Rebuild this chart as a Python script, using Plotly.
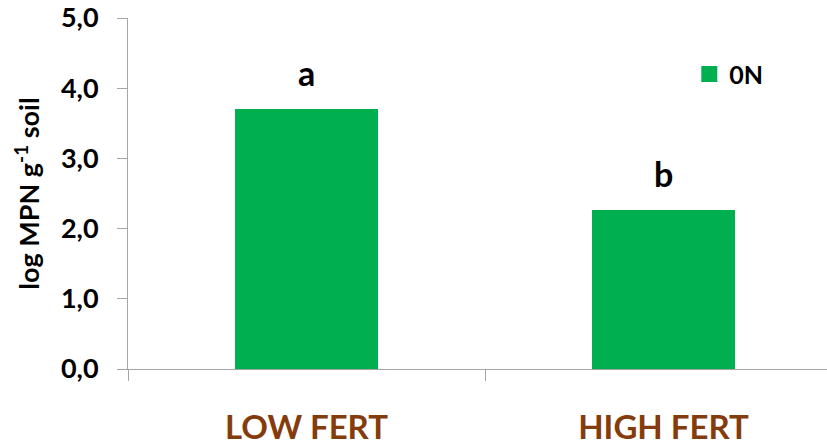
import plotly.graph_objects as go

# Data
categories = ["LOW FERT", "HIGH FERT"]
values_0n = [3.70, 2.26]
letters = ["a", "b"]
series_name = "0N"
y_ticks = [0, 1, 2, 3, 4, 5]
y_tick_labels = ["0,0", "1,0", "2,0", "3,0", "4,0", "5,0"]

GREEN = "#00B050"
AXIS_GREY = "#A6A6A6"
BROWN = "#843C0C"
FONT = "Lato, 'Open Sans', sans-serif"

fig = go.Figure()

fig.add_trace(go.Bar(
    x=categories,
    y=values_0n,
    width=0.40,
    marker=dict(color=GREEN, line=dict(width=0)),
    name=series_name,
    showlegend=False,
))

# significance letters above each bar
for cat, val, letter in zip(categories, values_0n, letters):
    fig.add_annotation(
        x=cat, y=val, text=letter, showarrow=False,
        xanchor="center", yanchor="bottom", yshift=14,
        font=dict(family=FONT, size=34, color="black", weight="bold"),
    )

# legend entry
fig.add_trace(go.Scatter(
    x=[None], y=[None], mode="markers",
    marker=dict(symbol="square", size=18, color=GREEN),
    name=series_name,
))

fig.update_layout(
    width=827, height=445,
    margin=dict(l=128, r=0, t=18, b=76),
    paper_bgcolor="white", plot_bgcolor="white",
    font=dict(family=FONT, color="black"),
    bargap=0,
    legend=dict(
        x=0.803, y=0.84, xanchor="left", yanchor="middle",
        font=dict(family=FONT, size=25, color="black", weight="bold"),
        bgcolor="rgba(0,0,0,0)", itemsizing="trace",
    ),
)

fig.update_xaxes(
    type="category",
    range=[-0.5, 1.458],
    showgrid=False, zeroline=False,
    showline=True, linecolor=AXIS_GREY, linewidth=1,
    ticks="outside", tickson="boundaries", ticklen=11,
    tickcolor=AXIS_GREY, tickwidth=1,
    tickfont=dict(family=FONT, size=33, color=BROWN, weight="bold"),
    ticklabelstandoff=29,
)

fig.update_yaxes(
    range=[0, 5],
    tickmode="array", tickvals=y_ticks, ticktext=y_tick_labels,
    showgrid=False, zeroline=False,
    showline=True, linecolor=AXIS_GREY, linewidth=1,
    ticks="outside", ticklen=10, tickcolor=AXIS_GREY, tickwidth=1,
    tickfont=dict(family=FONT, size=27, color="black", weight="bold"),
    ticklabelstandoff=13,
    title=dict(text="log MPN g<sup>-1</sup> soil",
               font=dict(family=FONT, size=27, color="black", weight="bold"),
               standoff=13),
)

fig.write_html("out.html")
